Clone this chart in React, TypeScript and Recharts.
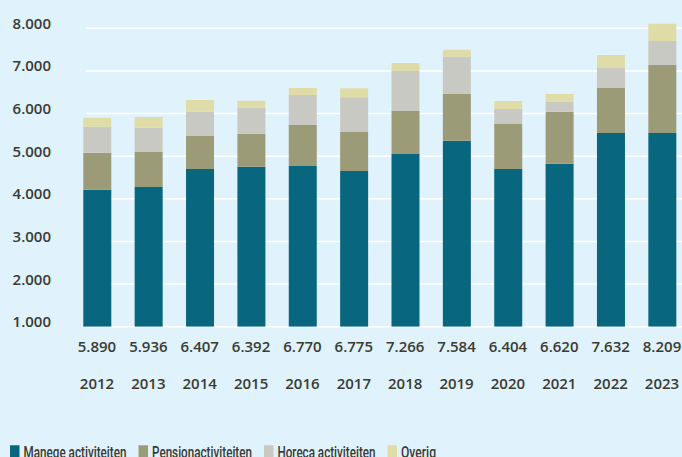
import React from 'react';
import { BarChart, Bar, XAxis, YAxis, CartesianGrid } from 'recharts';

const years = ['2012', '2013', '2014', '2015', '2016', '2017', '2018', '2019', '2020', '2021', '2022', '2023'];
const manege = [4210, 4280, 4700, 4750, 4770, 4650, 5050, 5360, 4700, 4820, 5545, 5545];
const pension = [870, 820, 775, 775, 960, 915, 1010, 1100, 1055, 1220, 1055, 1595];
const horeca = [610, 565, 565, 610, 705, 820, 940, 870, 350, 235, 470, 565];
const overig = [210, 255, 280, 165, 165, 210, 185, 165, 190, 185, 305, 400];
const totals = [5890, 5936, 6407, 6392, 6770, 6775, 7266, 7584, 6404, 6620, 7632, 8209];
const yTicks = [1000, 2000, 3000, 4000, 5000, 6000, 7000, 8000];

const seriesNames = ['Manege activiteiten', 'Pensionactiviteiten', 'Horeca activiteiten', 'Overig'];
const colors = ['#08667f', '#9c9b78', '#c9c9c3', '#dfdca7'];
const legendTextWidths = [103, 100, 98, 35];

const data = years.map((y, i) => ({
  year: y,
  manege: manege[i],
  pension: pension[i],
  horeca: horeca[i],
  overig: overig[i],
}));

const fmt = (v: number) => String(v).replace(/\B(?=(\d{3})+(?!\d))/g, '.');

const TEXT = '#3a3b33';
const NUMFONT = '"Open Sans", sans-serif';
const LEGFONT = 'Roboto, sans-serif';

const YTick = (props: any) => {
  const { y, payload } = props;
  return (
    <text x={51} y={y + 0.5} textAnchor="end" fill={TEXT} fontFamily={NUMFONT} fontSize={15} fontWeight={600}>
      {fmt(payload.value)}
    </text>
  );
};

const XTick = (props: any) => {
  const { x, y, payload, index } = props;
  const i = typeof index === 'number' ? index : years.indexOf(payload.value);
  return (
    <g>
      <text x={x} y={y + 25.5} textAnchor="middle" fill={TEXT} fontFamily={NUMFONT} fontSize={15} fontWeight={600}>
        {fmt(totals[i])}
      </text>
      <text x={x} y={y + 62.5} textAnchor="middle" fill={TEXT} fontFamily={NUMFONT} fontSize={15} fontWeight={600}>
        {payload.value}
      </text>
    </g>
  );
};

const gridLine = (props: any) => {
  if (props.y1 < 20) return <g key={props.key} />;
  return <line key={props.key} x1={86} x2={682} y1={props.y1} y2={props.y2} stroke="#ffffff" strokeWidth={1.5} />;
};

function LegendSvg() {
  let cursor = 10;
  const items = seriesNames.map((n, i) => {
    const sx = cursor;
    const tx = sx + 13.5;
    cursor = tx + legendTextWidths[i] + 12;
    return (
      <g key={n}>
        <rect x={sx} y={5.3} width={9.5} height={16} fill={colors[i]} />
        <text
          x={tx}
          y={17.6}
          fontFamily={LEGFONT}
          fontSize={17}
          fontWeight={500}
          fill={TEXT}
          textLength={legendTextWidths[i]}
          lengthAdjust="spacingAndGlyphs"
        >
          {n}
        </text>
      </g>
    );
  });
  return (
    <svg width={682} height={17} style={{ position: 'absolute', left: 0, top: 440, display: 'block' }}>
      {items}
    </svg>
  );
}

export default function App() {
  return (
    <div
      style={{
        position: 'absolute',
        left: 0,
        top: 0,
        width: 682,
        height: 457,
        overflow: 'hidden',
        background: '#e0f2fc',
      }}
    >
      <BarChart
        width={690}
        height={457}
        data={data}
        margin={{ top: 7, right: 2.3, left: 0, bottom: 60.3 }}
        barSize={28}
      >
        <CartesianGrid vertical={false} horizontal={gridLine} />
        <XAxis
          dataKey="year"
          height={70}
          axisLine={false}
          tickLine={false}
          tickSize={0}
          tickMargin={0}
          interval={0}
          tick={<XTick />}
        />
        <YAxis
          type="number"
          domain={[1000, 8500]}
          allowDataOverflow
          ticks={yTicks}
          width={71.3}
          axisLine={false}
          tickLine={false}
          tick={<YTick />}
        />
        <Bar dataKey="manege" stackId="a" fill={colors[0]} isAnimationActive={false} />
        <Bar dataKey="pension" stackId="a" fill={colors[1]} isAnimationActive={false} />
        <Bar dataKey="horeca" stackId="a" fill={colors[2]} isAnimationActive={false} />
        <Bar dataKey="overig" stackId="a" fill={colors[3]} isAnimationActive={false} />
      </BarChart>
      <LegendSvg />
    </div>
  );
}
